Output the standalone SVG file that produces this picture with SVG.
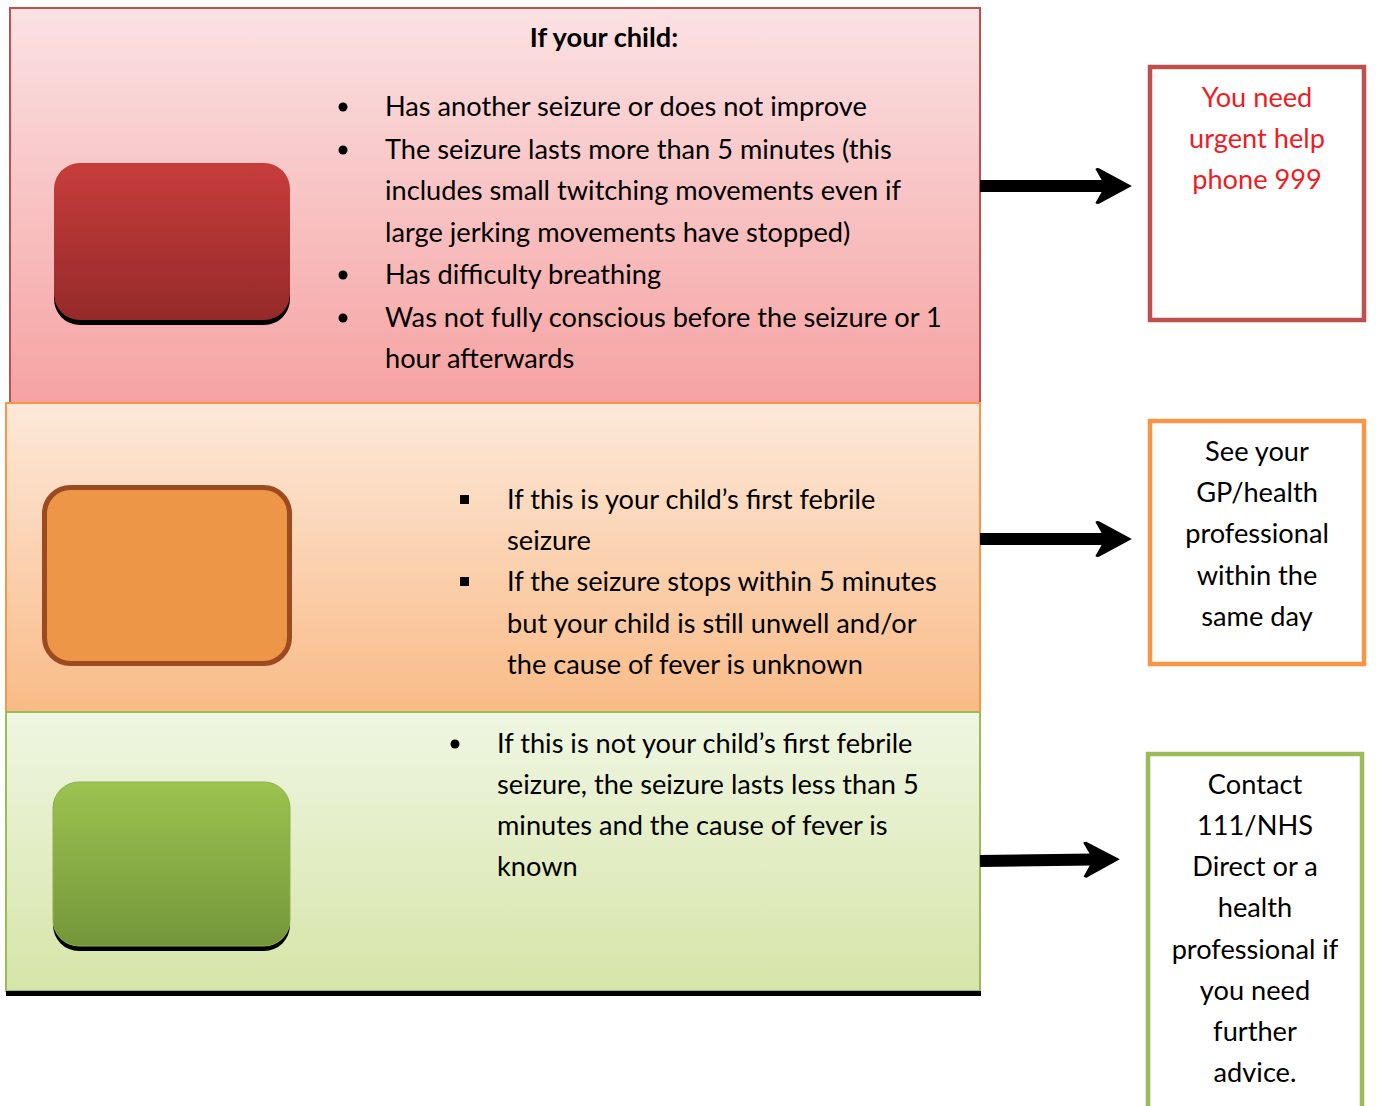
<svg xmlns="http://www.w3.org/2000/svg" width="1377" height="1106" viewBox="0 0 1377 1106">
<defs>
<linearGradient id="gRedPanel" x1="0" y1="0" x2="0" y2="1"><stop offset="0" stop-color="#fbe2e3"/><stop offset="1" stop-color="#f6a2a2"/></linearGradient>
<linearGradient id="gOrPanel" x1="0" y1="0" x2="0" y2="1"><stop offset="0" stop-color="#fde9da"/><stop offset="1" stop-color="#f9bb87"/></linearGradient>
<linearGradient id="gGrPanel" x1="0" y1="0" x2="0" y2="1"><stop offset="0" stop-color="#eff6e2"/><stop offset="1" stop-color="#d6e5a8"/></linearGradient>
<linearGradient id="gRedBtn" x1="0" y1="0" x2="0" y2="1"><stop offset="0" stop-color="#c73d3c"/><stop offset="1" stop-color="#952a29"/></linearGradient>
<linearGradient id="gGrBtn" x1="0" y1="0" x2="0" y2="1"><stop offset="0" stop-color="#9bc34f"/><stop offset="1" stop-color="#74963a"/></linearGradient>
<marker id="head" viewBox="0 0 10 10" refX="3" refY="5" markerWidth="3.2" markerHeight="3.4" orient="auto" markerUnits="strokeWidth">
<path d="M0.5 0.6 Q1 0 1.8 0.6 L10 5 L1.8 9.4 Q1 10 0.5 9.4 L3 5 Z" fill="#000"/>
</marker>
</defs>
<style>
text{font-family:"Lato","Liberation Sans",sans-serif;font-size:27.2px;fill:#000}
.b{font-weight:bold}
.c{text-anchor:middle}
.red{fill:#ee1c25}
.conn{stroke:#000;stroke-width:12;fill:none}
</style>
<rect width="1377" height="1106" fill="#fff"/>
<g id="panel-red">
<rect x="10" y="8" width="970" height="395" fill="url(#gRedPanel)" stroke="#c0504d" stroke-width="2"/>
<text class="b c" x="604" y="47">If your child:</text>
<g>
<circle cx="343" cy="107" r="4.5"/><circle cx="343" cy="150" r="4.5"/><circle cx="343" cy="275" r="4.5"/><circle cx="343" cy="318" r="4.5"/>
</g>
<text x="385" y="116">Has another seizure or does not improve</text>
<text x="385" y="159">The seizure lasts more than 5 minutes (this</text>
<text x="385" y="200">includes small twitching movements even if</text>
<text x="385" y="242">large jerking movements have stopped)</text>
<text x="385" y="284">Has difficulty breathing</text>
<text x="385" y="327">Was not fully conscious before the seizure or 1</text>
<text x="385" y="368">hour afterwards</text>
</g>
<g id="panel-orange">
<rect x="6" y="403" width="974" height="309" fill="url(#gOrPanel)" stroke="#f79646" stroke-width="2"/>
<rect x="460" y="495" width="9" height="9"/><rect x="460" y="577" width="9" height="9"/>
<text x="507" y="509">If this is your child’s first febrile</text>
<text x="507" y="550">seizure</text>
<text x="507" y="591">If the seizure stops within 5 minutes</text>
<text x="507" y="633">but your child is still unwell and/or</text>
<text x="507" y="674">the cause of fever is unknown</text>
</g>
<g id="panel-green">
<rect x="6" y="712" width="974" height="279" fill="url(#gGrPanel)" stroke="#9bbb59" stroke-width="2"/>
<rect x="6" y="991" width="975" height="5" fill="#000"/>
<circle cx="455" cy="744" r="4.5"/>
<text x="497" y="753">If this is not your child’s first febrile</text>
<text x="497" y="794">seizure, the seizure lasts less than 5</text>
<text x="497" y="835">minutes and the cause of fever is</text>
<text x="497" y="876">known</text>
</g>
<g id="btn-red">
<rect x="54" y="168" width="236" height="157" rx="26" fill="#000"/>
<rect x="54" y="163" width="236" height="157" rx="26" fill="url(#gRedBtn)"/>
</g>
<g id="btn-orange">
<rect x="44.5" y="487.5" width="245" height="176" rx="26" fill="#ee9648" stroke="#9c4a20" stroke-width="5"/>
</g>
<g id="btn-green">
<rect x="53" y="787" width="237" height="164" rx="26" fill="#000"/>
<rect x="53" y="782" width="237" height="164" rx="26" fill="url(#gGrBtn)" stroke="#8fb04d" stroke-width="1"/>
</g>
<g id="box-red">
<rect x="1150" y="67" width="214" height="253" fill="#fff" stroke="#c0504d" stroke-width="4.5"/>
<text class="c red" x="1257" y="107">You need</text>
<text class="c red" x="1257" y="148">urgent help</text>
<text class="c red" x="1257" y="189">phone 999</text>
</g>
<g id="box-orange">
<rect x="1150" y="421" width="214" height="243" fill="#fff" stroke="#f79646" stroke-width="4.5"/>
<text class="c" x="1257" y="461">See your</text>
<text class="c" x="1257" y="502">GP/health</text>
<text class="c" x="1257" y="543">professional</text>
<text class="c" x="1257" y="585">within the</text>
<text class="c" x="1257" y="626">same day</text>
</g>
<g id="box-green">
<rect x="1148" y="754" width="214" height="370" fill="#fff" stroke="#9bbb59" stroke-width="4.5"/>
<text class="c" x="1255" y="794">Contact</text>
<text class="c" x="1255" y="835">111/NHS</text>
<text class="c" x="1255" y="876">Direct or a</text>
<text class="c" x="1255" y="917">health</text>
<text class="c" x="1255" y="959">professional if</text>
<text class="c" x="1255" y="1000">you need</text>
<text class="c" x="1255" y="1041">further</text>
<text class="c" x="1255" y="1082">advice.</text>
</g>
<g id="connectors">
<path class="conn" d="M980 186 L1105 186" marker-end="url(#head)"/>
<path class="conn" d="M980 539 L1105 539" marker-end="url(#head)"/>
<path class="conn" d="M980 861 L1093 859.6" marker-end="url(#head)"/>
</g>
</svg>
